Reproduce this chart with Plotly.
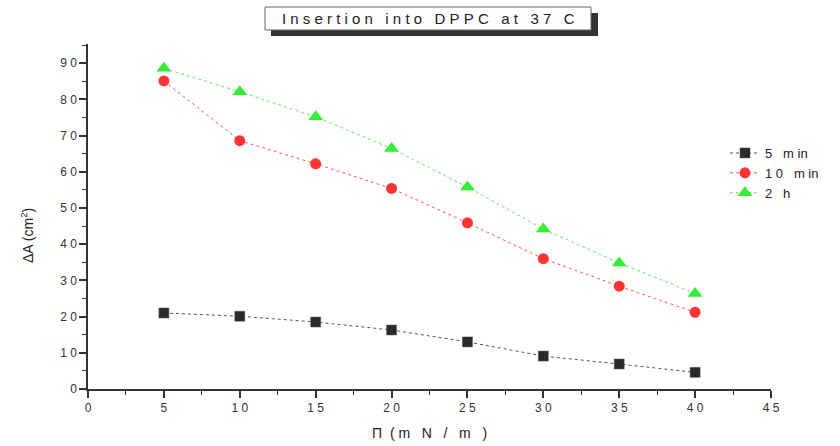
import plotly.graph_objects as go

pressure = [5, 10, 15, 20, 25, 30, 35, 40]
area_5min = [21.0, 20.1, 18.5, 16.3, 13.0, 9.1, 6.9, 4.6]
area_10min = [85.1, 68.6, 62.2, 55.4, 45.9, 36.0, 28.4, 21.2]
area_2h = [88.6, 82.1, 75.2, 66.4, 55.8, 44.2, 34.8, 26.4]
series_names = ["5\u00a0\u00a0\u00a0m\u00a0in", "1\u00a00\u00a0\u00a0\u00a0m\u00a0in", "2\u00a0\u00a0\u00a0h"]
x_ticks = [0, 5, 10, 15, 20, 25, 30, 35, 40, 45]
y_ticks = [0, 10, 20, 30, 40, 50, 60, 70, 80, 90]

NB = "\u00a0"


def spaced(s):
    out = []
    for ch in s:
        if ch == " ":
            out.append(NB)
        else:
            out.append(ch)
    return NB.join(out)


W, H = 840, 446
L, R, T, B = 88, 69, 44, 57
pw, ph = W - L - R, H - T - B


def px(x):
    return (x - L) / pw


def py(y):
    return (H - B - y) / ph


fig = go.Figure()
fig.add_trace(go.Scatter(
    x=pressure, y=area_5min, name=series_names[0], mode="lines+markers",
    line=dict(color="#555555", width=1, dash="3px,3px"),
    marker=dict(symbol="square", size=10, color="#2a2a2a",
                line=dict(color="#555555", width=0.5))))
fig.add_trace(go.Scatter(
    x=pressure, y=area_10min, name=series_names[1], mode="lines+markers",
    line=dict(color="#ff5555", width=1, dash="3px,3px"),
    marker=dict(symbol="circle", size=11, color="#ff3333",
                line=dict(width=0))))
fig.add_trace(go.Scatter(
    x=pressure, y=area_2h, name=series_names[2], mode="lines+markers",
    line=dict(color="#55ee55", width=1, dash="3px,3px"),
    marker=dict(symbol="triangle-up", size=13, color="#33ee33",
                line=dict(width=0))))

tick_font = dict(family="Liberation Sans, Arial, sans-serif", size=12, color="#333333")

fig.update_layout(
    width=W, height=H,
    margin=dict(l=L, r=R, t=T, b=B, autoexpand=False),
    paper_bgcolor="white", plot_bgcolor="white",
    showlegend=True,
    legend=dict(xref="container", yref="container", x=725 / W, y=1 - 138 / H,
                xanchor="left", yanchor="top",
                bgcolor="rgba(0,0,0,0)", font=dict(family="Liberation Sans, Arial, sans-serif",
                                                   size=13, color="#222222"),
                itemwidth=30, tracegroupgap=0),
    xaxis=dict(range=[0, 45], tickvals=x_ticks, ticktext=[spaced(str(v)) for v in x_ticks],
               showgrid=False, zeroline=False, showline=True, linecolor="#333333", linewidth=1.5,
               ticks="outside", ticklen=7, tickwidth=1.5, tickcolor="#333333",
               minor=dict(dtick=2.5, ticks="outside", ticklen=4, tickwidth=1, tickcolor="#333333"),
               tickfont=tick_font, automargin=False),
    yaxis=dict(range=[0, 95.3], tickvals=y_ticks, ticktext=[spaced(str(v)) for v in y_ticks],
               showgrid=False, zeroline=False, showline=True, linecolor="#333333", linewidth=1.5,
               ticks="outside", ticklen=7, tickwidth=1.5, tickcolor="#333333",
               minor=dict(dtick=5, ticks="outside", ticklen=4, tickwidth=1, tickcolor="#333333"),
               tickfont=tick_font, automargin=False),
    shapes=[
        dict(type="rect", xref="paper", yref="paper", x0=px(271), x1=px(598), y0=py(13), y1=py(36),
             fillcolor="#333333", line=dict(width=0), layer="above"),
        dict(type="rect", xref="paper", yref="paper", x0=px(265), x1=px(591), y0=py(7), y1=py(30),
             fillcolor="white", line=dict(color="#666666", width=1), layer="above"),
    ],
    annotations=[
        dict(text=spaced("Insertion into DPPC at 37 C"), xref="paper", yref="paper",
             x=px(428), y=py(18.5), xanchor="center", yanchor="middle", showarrow=False,
             font=dict(family="Liberation Sans, Arial, sans-serif", size=15, color="#222222")),
        dict(text="Π" + NB + NB + spaced("(m N / m )"), xref="paper", yref="paper",
             x=px(429), y=py(433), xanchor="center", yanchor="middle", showarrow=False,
             font=dict(family="Liberation Sans, Arial, sans-serif", size=14, color="#222222")),
        dict(text="ΔA (cm<sup>2</sup>)", xref="paper", yref="paper",
             x=px(27), y=py(236), xanchor="center", yanchor="middle", showarrow=False,
             textangle=-90,
             font=dict(family="Liberation Sans, Arial, sans-serif", size=14, color="#222222")),
    ],
)

fig.write_html("out.html", config={"displayModeBar": False},
               post_script="document.body.style.margin='0px';document.body.style.padding='0px';")
